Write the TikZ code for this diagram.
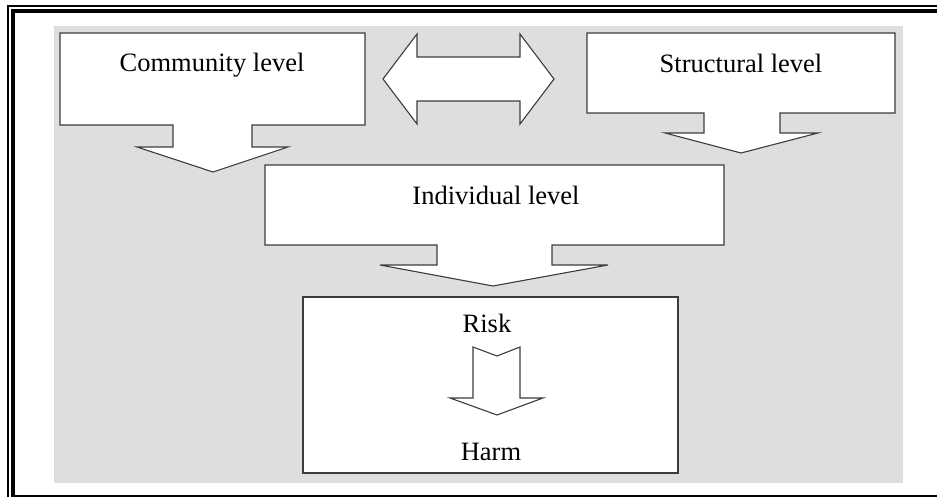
\documentclass[tikz,border=0pt]{standalone}
\usepackage{fontspec}
\setmainfont{Liberation Serif}
\definecolor{bggray}{RGB}{222,222,222}
\definecolor{edge}{RGB}{60,60,60}
\begin{document}
\begin{tikzpicture}[x=1pt,y=-1pt,
  shapebox/.style={fill=white,draw=edge,line width=1.1pt,line join=miter},
  lbl/.style={inner sep=0pt,font=\fontsize{26.5}{30}\selectfont}]
\useasboundingbox (0,0) rectangle (937,497);
% frame
\draw[line width=2pt] (8,497) -- (8,6) -- (937,6);
\draw[line width=4pt] (13,497) -- (13,11) -- (937,11);
\draw[line width=2pt] (13,495.5) -- (937,495.5);
% background
\fill[bggray] (54,26) rectangle (903,483);
% community box with arrow
\draw[shapebox] (60,33) -- (365,33) -- (365,125) -- (252,125) -- (252,147) -- (288,147) -- (213,172) -- (137,147) -- (173,147) -- (173,125) -- (60,125) -- cycle;
% structural box with arrow
\draw[shapebox] (587,33) -- (895,33) -- (895,113) -- (780,113) -- (780,133) -- (818,133) -- (741,153) -- (665,133) -- (704,133) -- (704,113) -- (587,113) -- cycle;
% double arrow
\draw[shapebox] (383,79) -- (417,34) -- (417,57) -- (520,57) -- (520,34) -- (554,79) -- (520,124) -- (520,101) -- (417,101) -- (417,124) -- cycle;
% individual box with arrow
\draw[shapebox] (265,165) -- (724,165) -- (724,245) -- (552,245) -- (552,265) -- (608,265) -- (493,286) -- (380,265) -- (437,265) -- (437,245) -- (265,245) -- cycle;
% risk/harm box
\draw[shapebox] (303,297) rectangle (678,473);
\draw[shapebox] (473,347) -- (497,356) -- (520,347) -- (520,398) -- (543,398) -- (497,415) -- (450,398) -- (473,398) -- cycle;
% labels
\node[lbl] (community) at (212,65) {Community level};
\node[lbl] (structural) at (741,63) {Structural level};
\node[lbl] (individual) at (496,195) {Individual level};
\node[lbl] (risk) at (487,323) {Risk};
\node[lbl] (harm) at (491,452) {Harm};
\end{tikzpicture}
\end{document}
